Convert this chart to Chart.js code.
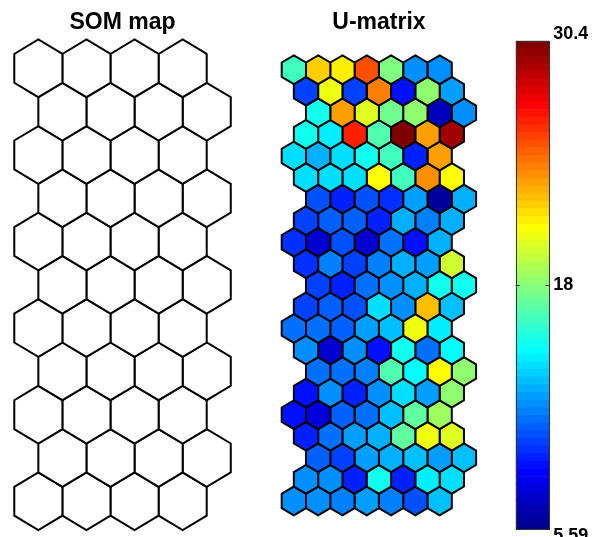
<!DOCTYPE html>
<html>
<head>
<meta charset="utf-8">
<script src="https://cdn.jsdelivr.net/npm/chart.js@4.4.1/dist/chart.umd.min.js"></script>
<style>
  html, body { margin: 0; padding: 0; background: #fff; }
  body { width: 593px; height: 537px; position: relative; overflow: hidden; }
  .panel { position: absolute; top: 0; }
</style>
</head>
<body>
<div class="panel" style="left:0px;width:245px;height:537px"><canvas id="somMap" width="245" height="537"></canvas></div>
<div class="panel" style="left:258px;width:242px;height:537px"><canvas id="uMatrix" width="242" height="537"></canvas></div>
<div class="panel" style="left:500px;width:93px;height:537px"><canvas id="colorBar" width="93" height="537"></canvas></div>
<script>
// ---- data ----
const mapTitle = 'SOM map';
const umatTitle = 'U-matrix';
const mapRows = 11;
const mapCols = 4;

// U-matrix distances, 21 rows x 7 columns (top row first)
const umatRow00 = [16.1, 22.0, 21.2, 25.2, 17.7, 11.8, 12.1];
const umatRow01 = [10.2, 20.7,  9.9, 24.0,  8.7, 18.3, 12.2];
const umatRow02 = [15.1, 23.2, 20.2, 17.4, 18.0,  7.1, 11.8];
const umatRow03 = [15.1, 14.3, 26.4, 16.8, 30.4, 23.2, 29.4];
const umatRow04 = [14.0, 12.7, 14.0, 14.9, 16.1,  9.3, 23.2];
const umatRow05 = [14.0, 14.0, 14.1, 20.8, 16.1, 23.6, 20.8];
const umatRow06 = [10.6,  9.3, 10.6,  9.6, 12.2,  6.2, 12.7];
const umatRow07 = [ 9.9, 10.9, 10.9,  9.3, 12.7, 11.5, 12.7];
const umatRow08 = [ 9.6,  7.5, 10.6,  7.5, 11.2,  9.0, 12.7];
const umatRow09 = [ 9.6, 11.5, 10.2, 11.5, 12.7, 12.5, 19.9];
const umatRow10 = [ 9.9,  9.3, 11.2, 11.8, 12.7, 14.9, 14.9];
const umatRow11 = [ 9.9, 10.9, 10.6, 14.0, 11.8, 22.3, 13.3];
const umatRow12 = [11.2, 11.2, 10.9, 12.5, 13.0, 20.5, 14.5];
const umatRow13 = [12.1,  7.5, 12.1,  9.0, 15.0, 11.2, 14.6];
const umatRow14 = [11.2, 11.2, 11.5, 16.8, 14.6, 20.8, 18.3];
const umatRow15 = [ 9.0, 11.8,  9.3, 11.8, 14.0, 12.5, 18.3];
const umatRow16 = [ 9.0,  7.8, 10.9, 11.2, 13.0, 17.2, 18.6];
const umatRow17 = [ 9.3, 11.2, 12.5, 12.7, 17.2, 20.5, 20.2];
const umatRow18 = [10.9, 10.2, 12.5, 12.7, 13.0, 12.5, 13.3];
const umatRow19 = [12.1, 11.8,  9.3, 14.9,  9.3, 14.5, 14.0];
const umatRow20 = [11.8, 12.1, 11.5, 12.5, 11.5, 10.6, 13.0];
const umatValues = [
  umatRow00, umatRow01, umatRow02, umatRow03, umatRow04, umatRow05, umatRow06,
  umatRow07, umatRow08, umatRow09, umatRow10, umatRow11, umatRow12, umatRow13,
  umatRow14, umatRow15, umatRow16, umatRow17, umatRow18, umatRow19, umatRow20
];

const colorMin = 5.59;
const colorMax = 30.4;
const colorTicks = [5.59, 18, 30.4];
const colorTickLabels = ['5.59', '18', '30.4'];

// ---- colormap (MATLAB-style jet with 64 levels) ----
function jet(n) {
  const m = Math.ceil(n / 4);
  const u = [];
  for (let i = 1; i <= m; i++) u.push(i / m);
  for (let i = 1; i < m; i++) u.push(1);
  for (let i = m; i >= 1; i--) u.push(i / m);
  const g0 = Math.ceil(m / 2) - (n % 4 === 1 ? 1 : 0);
  const J = Array.from({length: n}, () => [0, 0, 0]);
  u.forEach((val, k) => {
    const g = g0 + k + 1, r = g + m, b = g - m;
    if (g >= 1 && g <= n) J[g - 1][1] = val;
    if (r >= 1 && r <= n) J[r - 1][0] = val;
    if (b >= 1 && b <= n) J[b - 1][2] = val;
  });
  return J.map(c => `rgb(${Math.round(c[0] * 255)},${Math.round(c[1] * 255)},${Math.round(c[2] * 255)})`);
}
const palette = jet(64);
function colorFor(v) {
  let idx = Math.floor((v - colorMin) / (colorMax - colorMin) * palette.length);
  idx = Math.max(0, Math.min(palette.length - 1, idx));
  return palette[idx];
}

// ---- hexagon geometry (x in cell widths, y in row steps) ----
const hexCorners = [[0, -2/3], [0.5, -1/3], [0.5, 1/3], [0, 2/3], [-0.5, 1/3], [-0.5, -1/3], [0, -2/3], [0.5, -1/3]];
function hexagon(cx, cy) {
  return hexCorners.map(([dx, dy]) => ({x: cx + dx, y: cy + dy}));
}
function hexDataset(cx, cy, fillColor) {
  return {
    data: hexagon(cx, cy),
    fill: 'shape',
    backgroundColor: fillColor,
    borderColor: '#000',
    borderWidth: 2,
    borderJoinStyle: 'miter',
    pointRadius: 0,
    pointHoverRadius: 0,
    tension: 0
  };
}

const titleFont = {family: "'Liberation Sans', Arial, sans-serif", size: 23, weight: 'bold'};

function hexChartOptions(title, xr, yr) {
  return {
    responsive: false,
    animation: false,
    events: [],
    layout: {padding: 0},
    plugins: {
      legend: {display: false},
      tooltip: {enabled: false},
      title: {display: true, text: title, color: '#000', font: titleFont, padding: {top: 9, bottom: 0}}
    },
    scales: {
      x: {type: 'linear', display: false, min: xr[0], max: xr[1]},
      y: {type: 'linear', display: false, reverse: true, min: yr[0], max: yr[1]}
    }
  };
}

// ---- SOM map: 4 x 11 hexagonal grid, odd rows shifted half a cell ----
const somSets = [];
for (let r = 0; r < mapRows; r++) {
  for (let c = 0; c < mapCols; c++) {
    somSets.push(hexDataset(c + (r % 2) * 0.5, r, '#ffffff'));
  }
}
new Chart(document.getElementById('somMap'), {
  type: 'line',
  data: {datasets: somSets},
  options: hexChartOptions(mapTitle, [-0.797, 4.296], [-0.734, 10.827])
});

// ---- U-matrix: rows shift in a 0, 1/2, 1, 1/2 pattern ----
const rowShift = [0, 0.5, 1, 0.5];
const umatSets = [];
umatValues.forEach((row, r) => {
  row.forEach((v, c) => {
    umatSets.push(hexDataset(c + rowShift[r % 4], r, colorFor(v)));
  });
});
new Chart(document.getElementById('uMatrix'), {
  type: 'line',
  data: {datasets: umatSets},
  options: hexChartOptions(umatTitle, [-1.475, 8.484], [-1.535, 21.674])
});

// ---- colour bar ----
const step = (colorMax - colorMin) / palette.length;
const barSets = palette.map((col, i) => ({
  data: [[colorMin + i * step, colorMin + (i + 1) * step]],
  backgroundColor: col,
  borderWidth: 0,
  grouped: false,
  barPercentage: 1,
  categoryPercentage: 1
}));

const colorBarFrame = {
  id: 'colorBarFrame',
  afterDatasetsDraw(chart) {
    const {ctx, chartArea: a, scales: {y}} = chart;
    ctx.save();
    ctx.strokeStyle = '#333';
    ctx.lineWidth = 1;
    ctx.strokeRect(Math.round(a.left) + 0.5, Math.round(a.top) + 0.5,
                   Math.round(a.right - a.left) - 1, Math.round(a.bottom - a.top) - 1);
    ctx.font = "bold 18px 'Liberation Sans', Arial, sans-serif";
    ctx.fillStyle = '#000';
    ctx.textAlign = 'left';
    ctx.textBaseline = 'middle';
    colorTicks.forEach((t, i) => {
      const py = y.getPixelForValue(t);
      if (i > 0 && i < colorTicks.length - 1) {
        ctx.beginPath();
        ctx.moveTo(a.left, Math.round(py) + 0.5);
        ctx.lineTo(a.left + 4, Math.round(py) + 0.5);
        ctx.moveTo(a.right - 4, Math.round(py) + 0.5);
        ctx.lineTo(a.right, Math.round(py) + 0.5);
        ctx.stroke();
      }
      let ly = py;
      if (i === 0) ly += 6;
      if (i === colorTicks.length - 1) ly -= 7;
      ctx.fillText(colorTickLabels[i], a.right + 4, ly);
    });
    ctx.restore();
  }
};

new Chart(document.getElementById('colorBar'), {
  type: 'bar',
  data: {labels: [''], datasets: barSets},
  options: {
    responsive: false,
    animation: false,
    events: [],
    layout: {padding: {left: 15.7, right: 43.7, top: 40.7, bottom: 7}},
    plugins: {legend: {display: false}, tooltip: {enabled: false}, title: {display: false}},
    scales: {
      x: {type: 'category', display: false},
      y: {type: 'linear', display: false, min: colorMin, max: colorMax}
    }
  },
  plugins: [colorBarFrame]
});
</script>
</body>
</html>
